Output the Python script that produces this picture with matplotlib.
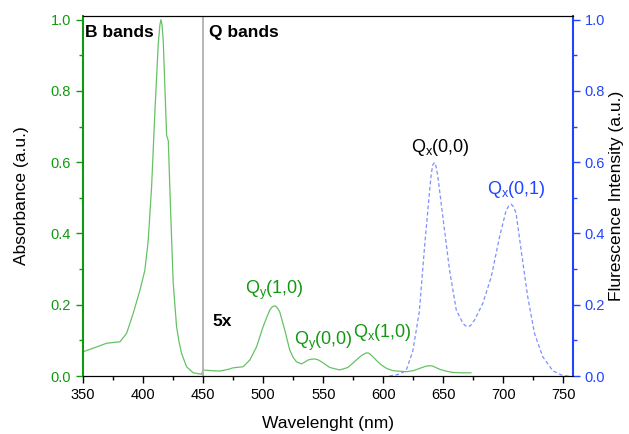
import matplotlib
matplotlib.use("Agg")
import matplotlib.pyplot as plt
from matplotlib.ticker import MultipleLocator

plt.rcParams['font.family'] = ['Liberation Sans', 'DejaVu Sans']
plt.rcParams['mathtext.fontset'] = 'custom'
plt.rcParams['mathtext.rm'] = 'Liberation Sans'
plt.rcParams['mathtext.it'] = 'Liberation Sans'

# Absorbance: B band region (as measured) and Q band region (scaled 5x)
abs_wl = [350, 360, 369.7, 375, 380.8, 386.3, 391.8, 397.4, 401.5, 404.3, 407.1, 409.9,
          412.6, 414, 414.9, 415.8, 416.8, 418.5, 419.6, 421, 423, 425.1, 427.9, 430,
          432, 436.2, 441.7, 448.7,
          450, 457, 464, 470, 475, 483.3, 488.9, 494.5, 499.9, 503, 505.5, 507.5,
          509.7, 511.5, 513.8, 518, 522.1, 525, 527.7, 531.9, 534.5, 537.4, 540, 543,
          546, 548.5, 555.4, 563.7, 570.6, 577.6, 582, 585.9, 588, 591.4, 594.5,
          598.4, 603, 608, 619, 625, 630, 635, 638.6, 641, 646.9, 652, 658, 665, 673]
abs_val = [0.068, 0.080, 0.092, 0.094, 0.096, 0.12, 0.176, 0.241, 0.297, 0.381, 0.531,
           0.746, 0.93, 0.985, 1.0, 0.985, 0.94, 0.78, 0.675, 0.66, 0.456, 0.26, 0.138,
           0.095, 0.064, 0.026, 0.009, 0.005,
           0.017, 0.015, 0.014, 0.018, 0.023, 0.026, 0.045, 0.082, 0.138, 0.165, 0.185,
           0.194, 0.197, 0.193, 0.18, 0.129, 0.073, 0.052, 0.04, 0.034, 0.039, 0.045,
           0.047, 0.048, 0.045, 0.04, 0.024, 0.017, 0.024, 0.045, 0.058, 0.065, 0.064,
           0.054, 0.043, 0.031, 0.021, 0.015, 0.012, 0.015, 0.021, 0.027, 0.029, 0.028,
           0.019, 0.014, 0.010, 0.009, 0.009]

# Fluorescence emission
fl_wl = [605, 612, 619, 624.6, 630, 634.4, 638.6, 640, 641.3, 642.7, 644, 645.5,
         649.6, 655.2, 660.8, 666.3, 668.5, 670.4, 672.5, 676, 682.9, 689.9, 696.8,
         702.3, 704.5, 706.5, 708.5, 710.6, 714.8, 720.3, 725.9, 732.8, 741.1, 749.4,
         755]
fl_val = [0.0, 0.004, 0.015, 0.07, 0.18, 0.363, 0.521, 0.568, 0.593, 0.599, 0.588,
          0.559, 0.447, 0.297, 0.185, 0.148, 0.141, 0.138, 0.141, 0.157, 0.204, 0.278,
          0.39, 0.465, 0.477, 0.482, 0.475, 0.456, 0.353, 0.222, 0.12, 0.054, 0.015,
          0.001, 0.0]

x_ticks = [350, 400, 450, 500, 550, 600, 650, 700, 750]
y_ticks = [0.0, 0.2, 0.4, 0.6, 0.8, 1.0]

GREEN_AX = '#119911'
GREEN_LN = '#66c266'
BLUE_AX = '#2244ff'
BLUE_LN = '#7f8fff'

fig = plt.figure(figsize=(6.29, 4.34), dpi=100)
ax = fig.add_axes([0.132, 0.1336, 0.779, 0.8294])
ax2 = ax.twinx()

ax.plot(abs_wl, abs_val, color=GREEN_LN, lw=0.9)
ax2.plot(fl_wl, fl_val, color=BLUE_LN, lw=0.9, ls=(0, (3, 2)))
ax.axvline(450, color='#b0b0b0', lw=1.3)

ax.set_xlim(350, 758)
ax.set_ylim(0, 1.01)
ax2.set_ylim(0, 1.01)

ax.set_xticks(x_ticks)
ax.xaxis.set_minor_locator(MultipleLocator(25))
ax.set_yticks(y_ticks)
ax.yaxis.set_minor_locator(MultipleLocator(0.1))
ax2.set_yticks(y_ticks)
ax2.yaxis.set_minor_locator(MultipleLocator(0.1))

for a in (ax, ax2):
    a.tick_params(which='major', direction='out', length=5, width=1, labelsize=10.5)
    a.tick_params(which='minor', direction='out', length=3, width=1)

ax.tick_params(axis='y', which='both', colors=GREEN_AX)
ax.spines['left'].set_color(GREEN_AX)
ax.spines['left'].set_linewidth(1.5)
ax2.tick_params(axis='y', which='both', colors=BLUE_AX)
ax2.spines['right'].set_color(BLUE_AX)
ax2.spines['right'].set_linewidth(1.5)
ax2.spines['left'].set_visible(False)
ax.spines['right'].set_visible(False)
ax.tick_params(axis='x', which='both', colors='black')

ax.set_xlabel('Wavelenght (nm)', fontsize=12.5, labelpad=10)
ax.set_ylabel('Absorbance (a.u.)', fontsize=12.5, labelpad=16)
ax2.set_ylabel('Flurescence Intensity (a.u.)', fontsize=12.5, labelpad=3)

ax.text(352, 0.965, 'B bands', fontsize=12.5, fontweight='bold', va='center')
ax.text(455, 0.965, 'Q bands', fontsize=12.5, fontweight='bold', va='center')
ax.text(458, 0.152, '5x', fontsize=12.5, fontweight='bold', va='center')

ax.text(509, 0.24, r'Q$_\mathrm{y}$(1,0)', fontsize=13, color=GREEN_AX, ha='center', va='center')
ax.text(550, 0.098, r'Q$_\mathrm{y}$(0,0)', fontsize=13, color=GREEN_AX, ha='center', va='center')
ax.text(599, 0.122, r'Q$_\mathrm{x}$(1,0)', fontsize=13, color=GREEN_AX, ha='center', va='center')
ax.text(648, 0.64, r'Q$_\mathrm{x}$(0,0)', fontsize=13, color='black', ha='center', va='center')
ax.text(711, 0.522, r'Q$_\mathrm{x}$(0,1)', fontsize=13, color=BLUE_AX, ha='center', va='center')

fig.savefig('out.png', dpi=100)
